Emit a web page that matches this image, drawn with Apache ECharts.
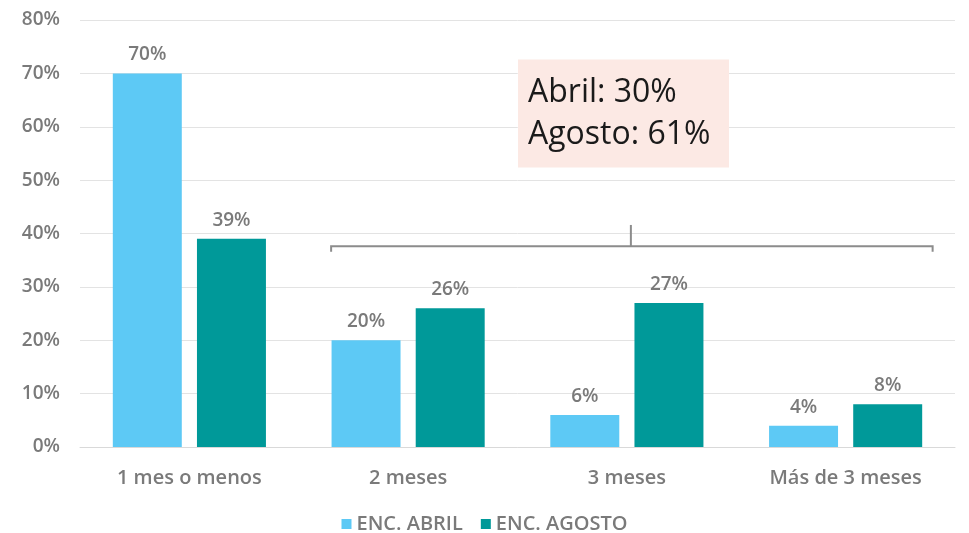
<!DOCTYPE html>
<html>
<head>
<meta charset="UTF-8">
<title>Encuesta abril vs agosto</title>
<script src="https://cdn.jsdelivr.net/npm/echarts@6/dist/echarts.min.js"></script>
<style>
  html, body { margin: 0; padding: 0; background: #fff; }
  #chart { width: 969px; height: 533px; }
</style>
</head>
<body>
<div id="chart"></div>
<script>
// datos
var categories = ['1 mes o menos', '2 meses', '3 meses', 'Más de 3 meses'];
var abril = [70, 20, 6, 4];
var agosto = [39, 26, 27, 8];
var seriesNames = ['ENC. ABRIL', 'ENC. AGOSTO'];
var noteLines = ['Abril: 30%', 'Agosto: 61%'];

var gray = '#7a7a7a';
var font = 'Open Sans';

var labelStyle = {
    show: true,
    position: 'top',
    distance: 9,
    formatter: '{c}%',
    color: gray,
    fontFamily: font,
    fontWeight: 600,
    fontSize: 19
};

var chart = echarts.init(document.getElementById('chart'));

chart.setOption({
    animation: false,
    textStyle: { fontFamily: font },
    grid: { left: 80, right: 14, top: 20, bottom: 86 },
    legend: {
        data: seriesNames,
        top: 509,
        left: 'center',
        icon: 'rect',
        itemWidth: 10,
        itemHeight: 10,
        itemGap: 18,
        textStyle: { color: gray, fontFamily: font, fontWeight: 600, fontSize: 20 }
    },
    xAxis: {
        type: 'category',
        data: categories,
        axisTick: { show: false },
        axisLine: { lineStyle: { color: '#d9d9d9' } },
        axisLabel: { color: gray, fontFamily: font, fontWeight: 600, fontSize: 20, margin: 21 }
    },
    yAxis: {
        type: 'value',
        min: 0,
        max: 80,
        interval: 10,
        axisLabel: { formatter: '{value}%', color: gray, fontFamily: font, fontWeight: 600, fontSize: 19, margin: 20 },
        splitLine: { lineStyle: { color: '#e3e3e3' } }
    },
    series: [
        {
            name: seriesNames[0],
            type: 'bar',
            data: abril,
            itemStyle: { color: '#5dc9f5' },
            barGap: '22%',
            barCategoryGap: '30%',
            label: labelStyle
        },
        {
            name: seriesNames[1],
            type: 'bar',
            data: agosto,
            itemStyle: { color: '#009999' },
            label: labelStyle
        }
    ]
});

// corchete y nota, posicionados con las escalas del gráfico
function px(cat, val) {
    return chart.convertToPixel({ xAxisIndex: 0, yAxisIndex: 0 }, [cat, val]);
}
var pLeft = px(categories[1], 37.6);
var pMid = px(categories[2], 37.6);
var pRight = px(categories[3], 37.6);
var xL = pLeft[0] - 77, xR = pRight[0] + 87, yB = pLeft[1];
var xM = pMid[0] + 4;
var yTop = px(categories[2], 41.6)[1];
var yEnd = px(categories[2], 36.6)[1];

var bracketStyle = { stroke: '#8c8c8c', lineWidth: 2 };
var noteTop = px(categories[2], 72.6)[1];

chart.setOption({
    graphic: [
        { type: 'polyline', shape: { points: [[xL, yEnd], [xL, yB], [xR, yB], [xR, yEnd]] }, style: bracketStyle },
        { type: 'line', shape: { x1: xM, y1: yTop, x2: xM, y2: yB }, style: bracketStyle },
        { type: 'rect', shape: { x: 518, y: noteTop, width: 211, height: 108 }, style: { fill: '#fce9e4' } },
        {
            type: 'text', left: 528, top: noteTop + 12,
            style: { text: noteLines.join('\n'), font: '32px "Open Sans"', lineHeight: 42, fill: '#1a1a1a' }
        }
    ]
});
</script>
</body>
</html>
